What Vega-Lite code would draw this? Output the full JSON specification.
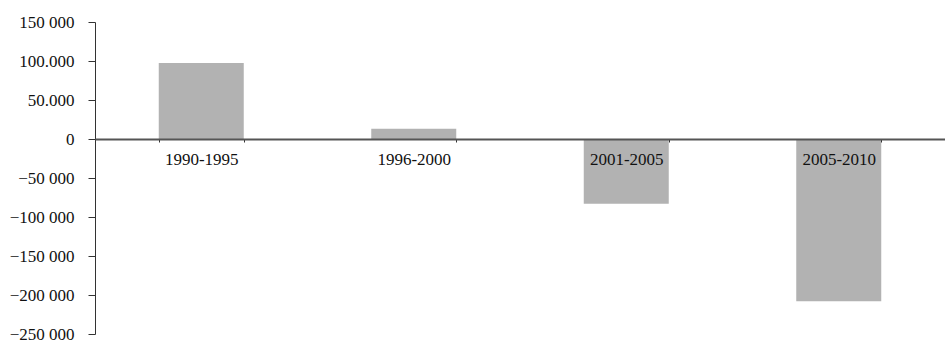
{
  "$schema": "https://vega.github.io/schema/vega-lite/v6.json",
  "autosize": {"type": "none"},
  "padding": {"left": 95, "top": 22, "right": 0, "bottom": 7},
  "width": 850,
  "height": 312,
  "background": "white",
  "config": {
    "view": {"stroke": null},
    "font": "Liberation Serif"
  },
  "data": {
    "values": [
      {"period": "1990-1995", "value": 97500},
      {"period": "1996-2000", "value": 13000},
      {"period": "2001-2005", "value": -83000},
      {"period": "2005-2010", "value": -208000}
    ]
  },
  "mark": {"type": "bar", "color": "#b2b2b2"},
  "encoding": {
    "x": {
      "field": "period",
      "type": "nominal",
      "sort": null,
      "scale": {"paddingInner": 0.6, "paddingOuter": 0.3},
      "axis": {
        "title": null,
        "orient": "bottom",
        "offset": -195,
        "labelAngle": 0,
        "labelFont": "Liberation Serif",
        "labelFontSize": 17,
        "labelColor": "#111111",
        "labelPadding": 9,
        "tickBand": "extent",
        "tickSize": 3,
        "tickColor": "#333333",
        "domainColor": "#555555",
        "domainWidth": 2,
        "zindex": 1
      }
    },
    "y": {
      "field": "value",
      "type": "quantitative",
      "scale": {"domain": [-250000, 150000], "nice": false, "zero": false},
      "axis": {
        "title": null,
        "values": [-250000, -200000, -150000, -100000, -50000, 0, 50000, 100000, 150000],
        "grid": false,
        "labelExpr": "datum.value == 150000 ? '150 000' : datum.value == 100000 ? '100.000' : datum.value == 50000 ? '50.000' : datum.value == 0 ? '0' : '−' + format(-datum.value / 1000, 'd') + ' 000'",
        "labelFont": "Liberation Serif",
        "labelFontSize": 17,
        "labelColor": "#111111",
        "labelPadding": 14,
        "tickSize": 7,
        "tickColor": "#333333",
        "domainColor": "#333333",
        "labelBaseline": "middle"
      }
    }
  }
}
